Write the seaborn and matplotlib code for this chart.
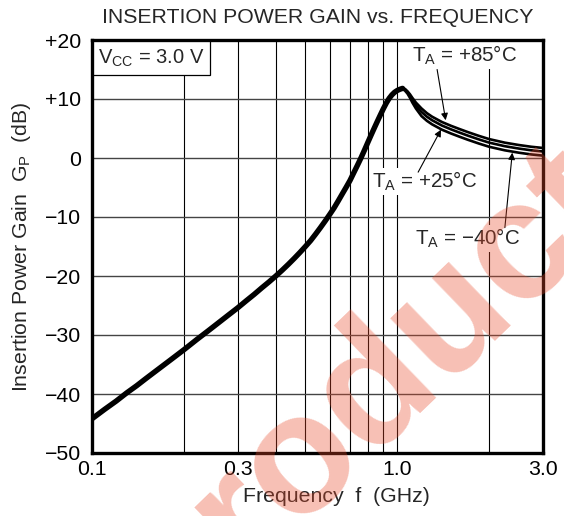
import numpy as np
import pandas as pd
import matplotlib
matplotlib.use("Agg")
import matplotlib.pyplot as plt
from matplotlib.patches import Rectangle
import seaborn as sns

# ------------------------------------------------------------------
# data
# ------------------------------------------------------------------
# shared rising part (the three temperatures overlap here)
freq_rise = [0.10, 0.11, 0.12, 0.13, 0.14, 0.15, 0.16, 0.18, 0.20, 0.22, 0.24,
             0.26, 0.28, 0.30, 0.32, 0.34, 0.36, 0.38, 0.40, 0.42, 0.44, 0.46,
             0.48, 0.50, 0.52, 0.54, 0.56, 0.58, 0.60, 0.62, 0.64, 0.66, 0.68,
             0.70, 0.72, 0.74, 0.76, 0.78, 0.80, 0.82, 0.84, 0.86, 0.88, 0.90,
             0.92, 0.94, 0.96, 0.98, 1.00, 1.02, 1.04]
gain_rise = [-44.2, -42.6, -41.2, -39.8, -38.6, -37.4, -36.3, -34.3, -32.5, -30.8, -29.3,
             -27.9, -26.6, -25.4, -24.2, -23.1, -22.0, -21.0, -20.0, -19.0, -18.0, -17.0,
             -16.0, -15.0, -14.0, -12.9, -11.8, -10.7, -9.6, -8.5, -7.3, -6.1, -4.95,
             -3.8, -2.5, -1.25, 0.0, 1.3, 2.6, 3.85, 5.05, 6.2, 7.3, 8.35,
             9.3, 10.1, 10.7, 11.15, 11.45, 11.65, 11.8]

# falling part, one curve per ambient temperature
freq_fall = [1.04, 1.06, 1.08, 1.10, 1.12, 1.15, 1.20, 1.25, 1.30, 1.40, 1.50,
             1.60, 1.70, 1.85, 2.00, 2.25, 2.50, 2.75, 3.00]
gain_85 = [11.9, 11.7, 11.3, 10.8, 10.2, 9.4, 8.4, 7.6, 7.0, 6.1, 5.45,
           4.9, 4.4, 3.75, 3.2, 2.6, 2.2, 1.9, 1.7]
gain_25 = [11.8, 11.6, 11.1, 10.5, 9.8, 8.9, 7.8, 7.0, 6.4, 5.5, 4.85,
           4.3, 3.8, 3.15, 2.6, 2.0, 1.6, 1.3, 1.1]
gain_m40 = [11.7, 11.4, 10.9, 10.2, 9.4, 8.4, 7.1, 6.3, 5.7, 4.8, 4.15,
            3.6, 3.1, 2.45, 1.9, 1.3, 0.9, 0.6, 0.4]

temp_labels = ["+85°C", "+25°C", "\u221240°C"]

x_ticks = [0.1, 0.3, 1.0, 3.0]
x_ticklabels = ["0.1", "0.3", "1.0", "3.0"]
x_grid = [0.2, 0.3, 0.4, 0.5, 0.6, 0.7, 0.8, 0.9, 1.0, 2.0]
y_ticks = [20, 10, 0, -10, -20, -30, -40, -50]
y_ticklabels = ["+20", "+10", "0", "\u221210", "\u221220", "\u221230", "\u221240", "\u221250"]

# ------------------------------------------------------------------
sns.set_style("white")
plt.rcParams["font.family"] = ["Liberation Sans", "DejaVu Sans"]
plt.rcParams["mathtext.fontset"] = "custom"
plt.rcParams["mathtext.rm"] = "Liberation Sans"

FS = 15.3

df_rise = pd.DataFrame({"freq": freq_rise, "gain": gain_rise})
df_fall = pd.concat([
    pd.DataFrame({"freq": freq_fall, "gain": g, "temp": t})
    for g, t in zip([gain_85, gain_25, gain_m40], temp_labels)
], ignore_index=True)

fig = plt.figure(figsize=(5.64, 5.16), dpi=100)
ax = fig.add_axes([92 / 564, 1 - 453 / 516, 451 / 564, 413 / 516])

ax.set_xscale("log")
ax.set_xlim(0.1, 3.0)
ax.set_ylim(-50, 20)

# grid
for xv in x_grid:
    ax.axvline(xv, color="black", lw=0.8, zorder=1)
for yv in y_ticks[1:-1]:
    ax.axhline(yv, color="#444444", lw=1.0, zorder=1)

sns.lineplot(data=df_rise, x="freq", y="gain", color="black", lw=3.9,
             sort=False, estimator=None, ax=ax, zorder=3)
sns.lineplot(data=df_fall, x="freq", y="gain", hue="temp", units="temp",
             palette=["black"] * 3, lw=1.9, sort=False, estimator=None,
             legend=False, ax=ax, zorder=3)

ax.set_xticks(x_ticks)
ax.set_xticklabels(x_ticklabels)
ax.xaxis.set_minor_locator(matplotlib.ticker.NullLocator())
ax.set_yticks(y_ticks)
ax.set_yticklabels(y_ticklabels)
ax.tick_params(axis="both", length=0, labelsize=FS, colors="black")
ax.tick_params(axis="y", pad=8)
ax.tick_params(axis="x", pad=5)

for s in ax.spines.values():
    s.set_linewidth(2.4)
    s.set_color("black")
    s.set_zorder(5)

ax.set_xlabel("Frequency  f  (GHz)", fontsize=FS)
ax.xaxis.set_label_coords(0.543, -0.083)
ax.set_ylabel(r"Insertion Power Gain  $\mathregular{G_P}$  (dB)", fontsize=FS)
ax.yaxis.set_label_coords(-0.131, 0.5)
ax.set_title("INSERTION POWER GAIN vs. FREQUENCY", fontsize=FS, pad=12)

# Vcc box in the upper-left corner
ax.add_patch(Rectangle((0, 1 - 35 / 413), 118 / 451, 35 / 413, transform=ax.transAxes,
                       facecolor="white", edgecolor="black", lw=0.9, zorder=4))
ax.text(6 / 451, 1 - 18 / 413, r"$\mathregular{V_{CC}}$ = 3.0 V", fontsize=14.5,
        transform=ax.transAxes, ha="left", va="center", zorder=6)

# temperature labels with arrows
label_pos = [(1.66, 17.4), (1.23, -4.0), (1.70, -13.6)]
arrow_tail = [(1.35, 15.0), (1.17, -2.4), (2.25, -11.8)]
arrow_head = [(1.44, 6.4), (1.39, 4.8), (2.38, 0.9)]
for t, (lx, ly), tail, head in zip(temp_labels, label_pos, arrow_tail, arrow_head):
    ax.text(lx, ly, r"$\mathregular{T_A}$ = " + t, fontsize=14.8, ha="center",
            va="center", zorder=4,
            bbox=dict(facecolor="white", edgecolor="none", pad=1.5))
    ax.annotate("", xy=head, xytext=tail, zorder=4,
                arrowprops=dict(arrowstyle="-|>", color="black", lw=0.8,
                                mutation_scale=10, shrinkA=0, shrinkB=0))

# watermark (cut by the image edge, as in the original)
fig.text(368 / 564, 1 - 392 / 516, "product", fontsize=122, fontweight="bold",
         color="#e84a2a", alpha=0.35, rotation=44, rotation_mode="anchor",
         ha="center", va="center", zorder=10)

fig.savefig("out.png", dpi=100)
